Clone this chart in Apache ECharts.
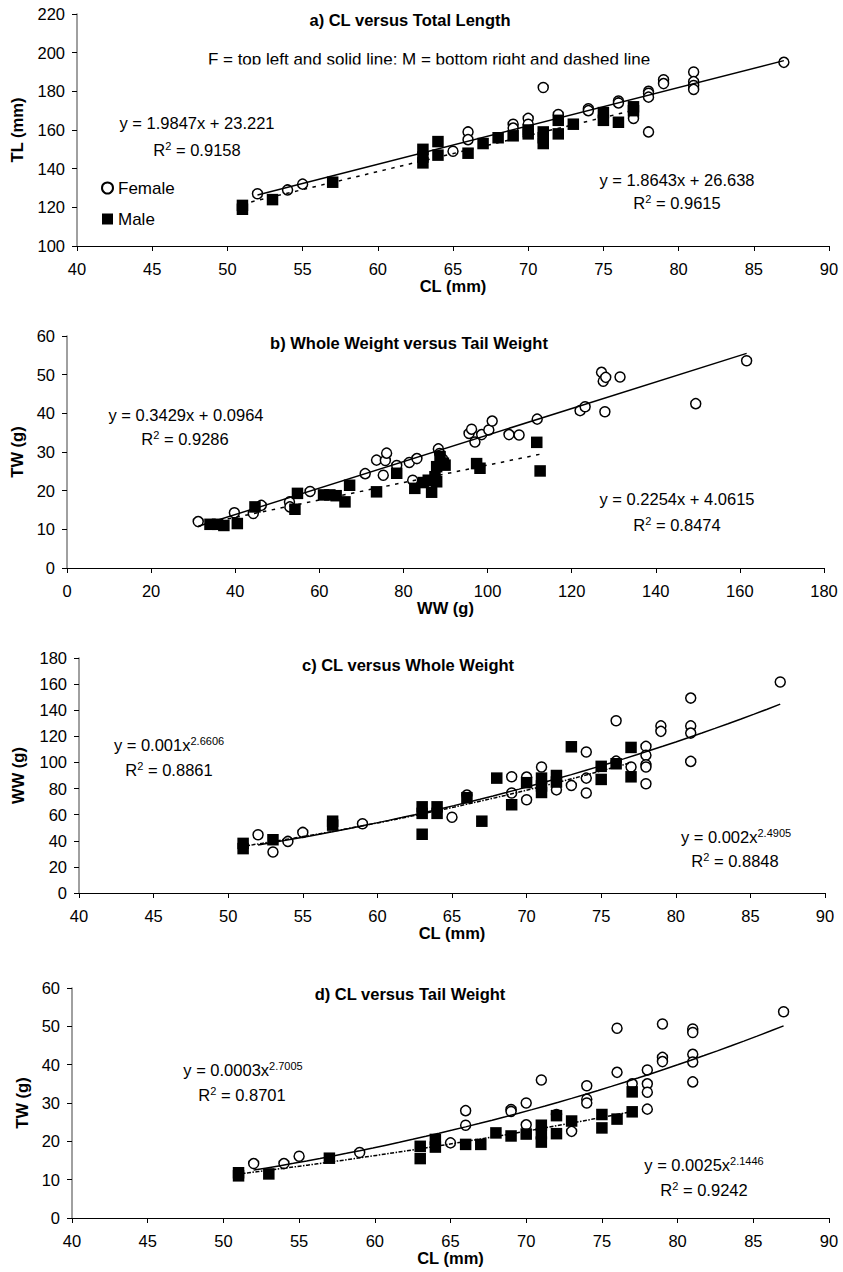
<!DOCTYPE html>
<html>
<head>
<meta charset="utf-8">
<script src="https://cdn.jsdelivr.net/npm/echarts@6/dist/echarts.min.js"></script>
<style>
html, body { margin: 0; padding: 0; background: #fff; }
#chart { width: 843px; height: 1272px; }
</style>
</head>
<body>
<div id="chart"></div>
<script>
'use strict';

// a) CL (mm) vs TL (mm)
var aFemale = [[52,127],[54,129],[55,132],[65,149],[66,159],[66,155],[69,163],[69,161],[70,166],[70,163],[71,182],[72,168],[74,171],[74,170],[76,175],[76,174],[77,166],[78,180],[78,179],[78,177],[78,159],[79,186],[79,184],[81,190],[81,185],[81,183],[81,181],[87,195]];
var aMale = [[51,121],[51,119],[53,124],[57,133],[63,150],[63,146],[63,143],[64,154],[64,147],[66,148],[67,153],[68,156],[69,157],[70,160],[70,158],[71,159],[71,156],[71,153],[72,165],[72,158],[73,163],[75,169],[75,165],[76,164],[77,172],[77,170]];

// b) WW (g) vs TW (g)
var bFemale = [[31.2,12],[39.8,14.3],[44.3,14.1],[46.2,16.2],[52.9,17.1],[53,15.8],[57.8,19.8],[70.9,24.4],[73.6,27.9],[75.2,24],[75.7,27.8],[76,29.7],[78.4,26.5],[81.4,27.3],[82.2,22.7],[83.2,28.3],[88.3,30.8],[88.6,29.6],[89.3,28.2],[95.6,34.8],[96.2,35.9],[97,32.6],[98.6,34.5],[100.3,35.7],[101.1,38],[105.1,34.5],[107.5,34.4],[111.8,38.5],[122,40.7],[123.2,41.7],[127.1,50.6],[127.5,48.3],[128.1,49.3],[127.9,40.4],[131.5,49.4],[149.5,42.5],[161.6,53.6]];
var bMale = [[34,11.3],[35.8,11.3],[37.3,11],[40.5,11.5],[44.7,15.8],[54.2,15.2],[54.8,19.3],[61,18.9],[62.5,18.9],[64,18.7],[66.1,17.1],[67.2,21.4],[73.6,19.7],[78.4,24.5],[82.7,20.6],[84.7,22.1],[85.9,22.7],[86.7,19.6],[87.5,23.6],[87.9,26.2],[87.9,22.3],[88.7,28.8],[89.5,27.1],[89.9,26.6],[97.4,27],[98.2,25.8],[111.7,32.5],[112.5,25.1]];

// c) CL (mm) vs WW (g)
var cFemale = [[52,44.6],[53,31.4],[54,39.5],[55,46.4],[59,53],[65,58],[66,75],[69,89],[69,76.6],[70,88.8],[70,71.4],[71,96.5],[72,79],[73,82.4],[74,108],[74,88],[74,76.6],[76,131.9],[76,101],[77,96.5],[78,112.3],[78,105.5],[78,98.2],[78,96.5],[78,83.7],[79,128],[79,123.8],[81,149.3],[81,128],[81,122.5],[81,100.8],[87,161.6]];
var cMale = [[51,38],[51,34],[53,40.8],[57,55],[57,52],[63,66],[63,61],[63,45],[64,66],[64,61],[66,73],[67,55],[68,88],[69,67.6],[70,84.5],[71,88],[71,82],[71,77],[72,90],[72,85],[73,112],[75,97],[75,87],[76,99],[77,111.5],[77,89]];

// d) CL (mm) vs TW (g)
var dFemale = [[52,14.2],[54,14.2],[55,16.1],[59,17.1],[65,19.6],[66,28],[66,24.2],[69,28.3],[69,27.8],[70,30],[70,24.3],[71,36],[72,27],[73,22.6],[74,34.5],[74,31],[74,30],[76,49.5],[76,38],[77,35],[78,38.6],[78,35],[78,32.8],[78,28.4],[79,50.6],[79,41.9],[79,40.8],[81,49.3],[81,48.4],[81,42.7],[81,40.7],[81,35.5],[87,53.8]];
var dMale = [[51,11.8],[51,11],[53,11.5],[57,15.6],[63,18.7],[63,15.5],[64,20.5],[64,18.5],[66,19.2],[67,19.2],[68,22.2],[69,21.4],[70,21.9],[71,24.2],[71,22],[71,19.8],[72,26.7],[72,22],[73,25.3],[75,27],[75,23.5],[76,25.8],[77,32.9],[77,27.7]];

// trendline coefficients (linear: [slope, intercept]; power: [a, b])
var aFitF = [1.9847, 23.221], aFitM = [1.8643, 26.638];
var bFitF = [0.3429, 0.0964], bFitM = [0.2254, 4.0615];
var cFitF = [0.001, 2.6606], cFitM = [0.002, 2.4905];
var dFitF = [0.00029, 2.7005], dFitM = [0.0025, 2.1446];

var FONT = '"Liberation Sans", Arial, sans-serif';
var FS = 16.5;

function trend(pts, coef, kind) {
  var xs = pts.map(function (p) { return p[0]; });
  var x0 = Math.min.apply(null, xs), x1 = Math.max.apply(null, xs);
  var out = [];
  var n = kind === 'lin' ? 1 : 40;
  for (var i = 0; i <= n; i++) {
    var x = x0 + (x1 - x0) * i / n;
    out.push([x, kind === 'lin' ? coef[0] * x + coef[1] : coef[0] * Math.pow(x, coef[1])]);
  }
  return out;
}

function xAx(i, min, max, step, name) {
  return {
    type: 'value', gridIndex: i, min: min, max: max, interval: step,
    name: name, nameLocation: 'middle', nameGap: 30,
    nameTextStyle: { color: '#000', fontFamily: FONT, fontWeight: 'bold', fontSize: FS },
    axisLine: { show: true, onZero: false, lineStyle: { color: '#000', width: 1 } },
    axisTick: { show: true, inside: false, length: 5, lineStyle: { color: '#000' } },
    axisLabel: { color: '#000', fontFamily: FONT, fontSize: FS, margin: 14 },
    splitLine: { show: false }
  };
}

function yAx(i, min, max, step, name, gap) {
  return {
    type: 'value', gridIndex: i, min: min, max: max, interval: step,
    name: name, nameLocation: 'middle', nameGap: gap,
    nameTextStyle: { color: '#000', fontFamily: FONT, fontWeight: 'bold', fontSize: FS },
    axisLine: { show: true, onZero: false, lineStyle: { color: '#808080', width: 1.5 } },
    axisTick: { show: true, inside: false, length: 5, lineStyle: { color: '#000' } },
    axisLabel: { color: '#000', fontFamily: FONT, fontSize: FS, margin: 12 },
    splitLine: { show: false }
  };
}

function females(i, data) {
  return {
    name: 'Female', type: 'scatter', xAxisIndex: i, yAxisIndex: i, data: data,
    symbol: 'circle', symbolSize: 10, z: 2,
    itemStyle: { color: '#fff', borderColor: '#000', borderWidth: 1.5, opacity: 1 }
  };
}

function males(i, data) {
  return {
    name: 'Male', type: 'scatter', xAxisIndex: i, yAxisIndex: i, data: data,
    symbol: 'rect', symbolSize: 11.5, z: 3,
    itemStyle: { color: '#000', opacity: 1 }
  };
}

function fitLine(i, data, dash) {
  return {
    type: 'line', xAxisIndex: i, yAxisIndex: i, data: data, showSymbol: false,
    symbol: 'none', silent: true, z: 5,
    lineStyle: { color: '#000', width: 1.5, type: dash || 'solid' }
  };
}

function txt(x, y, text, font) {
  return {
    type: 'text', x: x, y: y, silent: true, z: 50,
    style: {
      text: text, fill: '#000', font: font || (FS + 'px ' + FONT),
      align: 'center', verticalAlign: 'middle', textAlign: 'center', textVerticalAlign: 'middle',
      rich: {
        b: { fontFamily: FONT, fontSize: FS, lineHeight: 19, verticalAlign: 'middle', fill: '#000' },
        s: { fontFamily: FONT, fontSize: 11, lineHeight: 11, verticalAlign: 'top', fill: '#000' }
      }
    }
  };
}

var bold = 'bold ' + FS + 'px ' + FONT;

var chart = echarts.init(document.getElementById('chart'), null, { renderer: 'svg' });

var option = {
  backgroundColor: '#fff',
  animation: false,
  grid: [
    { left: 77, top: 14, width: 752, height: 232, containLabel: false, outerBoundsMode: 'none' },
    { left: 67, top: 336, width: 757, height: 232, containLabel: false, outerBoundsMode: 'none' },
    { left: 79, top: 658, width: 746, height: 235, containLabel: false, outerBoundsMode: 'none' },
    { left: 72, top: 988, width: 757, height: 230, containLabel: false, outerBoundsMode: 'none' }
  ],
  xAxis: [
    xAx(0, 40, 90, 5, 'CL (mm)'),
    xAx(1, 0, 180, 20, 'WW (g)'),
    xAx(2, 40, 90, 5, 'CL (mm)'),
    xAx(3, 40, 90, 5, 'CL (mm)')
  ],
  yAxis: [
    yAx(0, 100, 220, 20, 'TL (mm)', 52),
    yAx(1, 0, 60, 10, 'TW (g)', 42),
    yAx(2, 0, 180, 20, 'WW (g)', 53),
    yAx(3, 0, 60, 10, 'TW (g)', 42)
  ],
  legend: {
    data: ['Female', 'Male'], orient: 'vertical', left: 101, top: 179,
    itemWidth: 11, itemHeight: 11, itemGap: 13, padding: 0,
    textStyle: { color: '#000', fontFamily: FONT, fontSize: 17, lineHeight: 18 },
    selectedMode: false
  },
  series: [
    females(0, aFemale), males(0, aMale),
    fitLine(0, trend(aFemale, aFitF, 'lin')), fitLine(0, trend(aMale, aFitM, 'lin'), [3.5, 5.5]),
    females(1, bFemale), males(1, bMale),
    fitLine(1, trend(bFemale, bFitF, 'lin')), fitLine(1, trend(bMale, bFitM, 'lin'), [3.5, 5.5]),
    females(2, cFemale), males(2, cMale),
    fitLine(2, trend(cFemale, cFitF, 'pow')), fitLine(2, trend(cMale, cFitM, 'pow'), [4, 1.5, 1.5, 1.5]),
    females(3, dFemale), males(3, dMale),
    fitLine(3, trend(dFemale, dFitF, 'pow')), fitLine(3, trend(dMale, dFitM, 'pow'), [4, 1.5, 1.5, 1.5])
  ],
  graphic: [
    // panel titles
    txt(410, 20, 'a) CL versus Total Length', bold),
    txt(409, 343, 'b) Whole Weight versus Tail Weight', bold),
    txt(408, 665, 'c) CL versus Whole Weight', bold),
    txt(410, 994, 'd) CL versus Tail Weight', bold),
    // note in panel a, its lower edge is cut off as in the original
    txt(429, 59, 'F = top left and solid line: M = bottom right and dashed line', '17px ' + FONT),
    { type: 'rect', silent: true, z: 60, shape: { x: 195, y: 64.5, width: 470, height: 8 }, style: { fill: '#fff' } },
    // equations
    txt(197, 123, '{b|y = 1.9847x + 23.221}'),
    txt(197, 150, '{b|R}{s|2}{b| = 0.9158}'),
    txt(677, 180, '{b|y = 1.8643x + 26.638}'),
    txt(677, 203, '{b|R}{s|2}{b| = 0.9615}'),
    txt(186, 415, '{b|y = 0.3429x + 0.0964}'),
    txt(185, 439, '{b|R}{s|2}{b| = 0.9286}'),
    txt(677, 499, '{b|y = 0.2254x + 4.0615}'),
    txt(677, 525, '{b|R}{s|2}{b| = 0.8474}'),
    txt(169, 745, '{b|y = 0.001x}{s|2.6606}'),
    txt(169, 770, '{b|R}{s|2}{b| = 0.8861}'),
    txt(736, 837, '{b|y = 0.002x}{s|2.4905}'),
    txt(735, 861, '{b|R}{s|2}{b| = 0.8848}'),
    txt(243, 1070, '{b|y = 0.0003x}{s|2.7005}'),
    txt(242, 1095, '{b|R}{s|2}{b| = 0.8701}'),
    txt(704, 1165, '{b|y = 0.0025x}{s|2.1446}'),
    txt(704, 1190, '{b|R}{s|2}{b| = 0.9242}')
  ]
};

chart.setOption(option);
</script>
</body>
</html>
